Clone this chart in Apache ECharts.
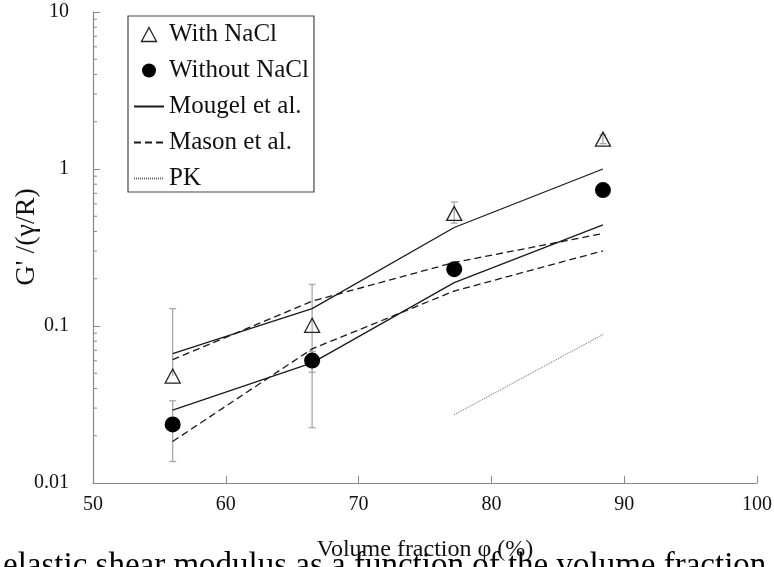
<!DOCTYPE html>
<html>
<head>
<meta charset="utf-8">
<script src="https://cdn.jsdelivr.net/npm/echarts@6/dist/echarts.min.js"></script>
<style>html,body{margin:0;padding:0;background:#fff;}#c{width:774px;height:567px;}</style>
</head>
<body>
<div id="c"></div>
<script>
const phi = [56, 66.5, 77.2, 88.4];
const withNaCl = [0.048, 0.101, 0.521, 1.55];
const withoutNaCl = [0.0236, 0.0602, 0.230, 0.734];
const withLow = [0.048, 0.0225, 0.452, 1.45];
const withHigh = [0.129, 0.184, 0.617, 1.65];
const withoutLow = [0.0137, 0.0507, 0.215, 0.70];
const withoutHigh = [0.0334, 0.069, 0.245, 0.77];
const mougelWith = [0.0667, 0.129, 0.424, 1.0];
const mougelWithout = [0.0291, 0.0582, 0.189, 0.441];
const masonWith = [0.0611, 0.144, 0.254, 0.388];
const masonWithout = [0.0184, 0.0715, 0.167, 0.301];
const pkPhi = [77.2, 88.4];
const pkValues = [0.0272, 0.0883];
const yMinorTicks = [0.02,0.03,0.04,0.05,0.06,0.07,0.08,0.09,0.2,0.3,0.4,0.5,0.6,0.7,0.8,0.9,2,3,4,5,6,7,8,9];
const xTicks = [50, 60, 70, 80, 90, 100];
const yTicks = [0.01, 0.1, 1, 10];
const yTitle = "G' /(γ/R)";
const xTitle = 'Volume fraction φ (%)';
const caption = 'elastic shear modulus as a function of the volume fraction';

const FONT = '"Liberation Serif", "Times New Roman", serif';
const zip = (xs, ys) => xs.map((x, i) => [x, ys[i]]);

const chart = echarts.init(document.getElementById('c'));

function errRender(params, api) {
  const x = api.value(0), v = api.value(1), lo = api.value(2), hi = api.value(3);
  const pHi = api.coord([x, hi]);
  const pLo = api.coord([x, lo]);
  const st = { stroke: '#a8a8a8', lineWidth: 1.3 };
  const children = [
    { type: 'line', shape: { x1: pHi[0], y1: pHi[1], x2: pLo[0], y2: pLo[1] }, style: st },
    { type: 'line', shape: { x1: pHi[0] - 3.5, y1: pHi[1], x2: pHi[0] + 3.5, y2: pHi[1] }, style: st }
  ];
  if (lo !== v) {
    children.push({ type: 'line', shape: { x1: pLo[0] - 3.5, y1: pLo[1], x2: pLo[0] + 3.5, y2: pLo[1] }, style: st });
  }
  return { type: 'group', children };
}

function minorRender(params, api) {
  const p = api.coord([api.value(0), api.value(1)]);
  return { type: 'line', shape: { x1: p[0], y1: p[1], x2: p[0] + 4, y2: p[1] }, style: { stroke: '#888', lineWidth: 1 } };
}

const lineBase = (name, data, type, color, width) => ({
  name, type: 'line', data, symbol: 'none', silent: true, z: 3,
  lineStyle: { color: color || '#1a1a1a', width: width || 1.3, type },
  itemStyle: { color: color || '#1a1a1a' }
});

const noSym = { color: 'rgba(0,0,0,0)', borderWidth: 0, opacity: 0 };

chart.setOption({
  animation: false,
  backgroundColor: '#fff',
  textStyle: { fontFamily: FONT },
  grid: { left: 93, right: 17, top: 12, bottom: 84, containLabel: false, outerBoundsMode: 'none' },
  legend: {
    left: 128, top: 16, orient: 'vertical',
    backgroundColor: '#fff', borderColor: '#444', borderWidth: 1.2,
    padding: [6, 5, 1, 5], itemWidth: 30, itemHeight: 14, itemGap: 11,
    textStyle: { fontFamily: FONT, fontSize: 25, color: '#111', lineHeight: 25 },
    data: [
      { name: 'With NaCl', icon: 'path://M7.5,0 L15,14 L0,14 Z', itemStyle: { color: 'rgba(0,0,0,0)', borderColor: '#222', borderWidth: 1.3 } },
      { name: 'Without NaCl', icon: 'circle', itemStyle: { color: '#000', opacity: 1 } },
      { name: 'Mougel et al.', itemStyle: noSym },
      { name: 'Mason et al.', itemStyle: noSym },
      { name: 'PK', itemStyle: noSym }
    ]
  },
  xAxis: {
    type: 'value', min: 50, max: 100, interval: 10,
    axisLine: { lineStyle: { color: '#888', width: 1.2 } },
    axisTick: { inside: true, length: 7, lineStyle: { color: '#888' } },
    splitLine: { show: false },
    axisLabel: { fontFamily: FONT, fontSize: 20, color: '#111', margin: 12,
      formatter: v => xTicks.includes(v) ? String(v) : '' },
    name: xTitle, nameLocation: 'middle', nameGap: 55,
    nameTextStyle: { fontFamily: FONT, fontSize: 24, color: '#111' }
  },
  yAxis: {
    type: 'log', logBase: 10, min: 0.01, max: 10,
    axisLine: { lineStyle: { color: '#888', width: 1.2 } },
    axisTick: { inside: true, length: 7, lineStyle: { color: '#888' } },
    splitLine: { show: false },
    axisLabel: { fontFamily: FONT, fontSize: 20, color: '#111', margin: 24,
      formatter: v => { const t = yTicks.find(k => Math.abs(k - v) / k < 1e-6); return t === undefined ? '' : String(t); } }
  },
  series: [
    { name: 'errWith', type: 'custom', renderItem: errRender, silent: true, z: 2,
      data: phi.map((x, i) => [x, withNaCl[i], withLow[i], withHigh[i]]), encode: { x: 0, y: [1, 2, 3] } },
    { name: 'errWithout', type: 'custom', renderItem: errRender, silent: true, z: 2,
      data: phi.map((x, i) => [x, withoutNaCl[i], withoutLow[i], withoutHigh[i]]), encode: { x: 0, y: [1, 2, 3] } },
    { name: 'minor', type: 'custom', renderItem: minorRender, silent: true, clip: false, z: 1,
      data: yMinorTicks.map(v => [50, v]) },
    { name: 'With NaCl', type: 'scatter', data: zip(phi, withNaCl), symbol: 'triangle', symbolSize: [15, 14], z: 5,
      itemStyle: { color: 'rgba(0,0,0,0)', borderColor: '#222', borderWidth: 1.3, opacity: 1 } },
    { name: 'Without NaCl', type: 'scatter', data: zip(phi, withoutNaCl), symbol: 'circle', symbolSize: 16, z: 5,
      itemStyle: { color: '#000', opacity: 1 } },
    lineBase('Mougel et al.', zip(phi, mougelWith), 'solid'),
    lineBase('Mougel et al.', zip(phi, mougelWithout), 'solid'),
    lineBase('Mason et al.', zip(phi, masonWith), [7, 4]),
    lineBase('Mason et al.', zip(phi, masonWithout), [7, 4]),
    lineBase('PK', zip(pkPhi, pkValues), [1, 1], '#666', 1)
  ],
  graphic: [
    { type: 'text', x: 27, y: 237, rotation: Math.PI / 2, silent: true,
      style: { text: yTitle, font: '28px ' + FONT, fill: '#111', align: 'center', verticalAlign: 'middle' } },
    { type: 'text', left: 3, top: 550, silent: true,
      style: { text: caption, font: '33px ' + FONT, fill: '#000' } }
  ]
});
</script>
</body>
</html>
